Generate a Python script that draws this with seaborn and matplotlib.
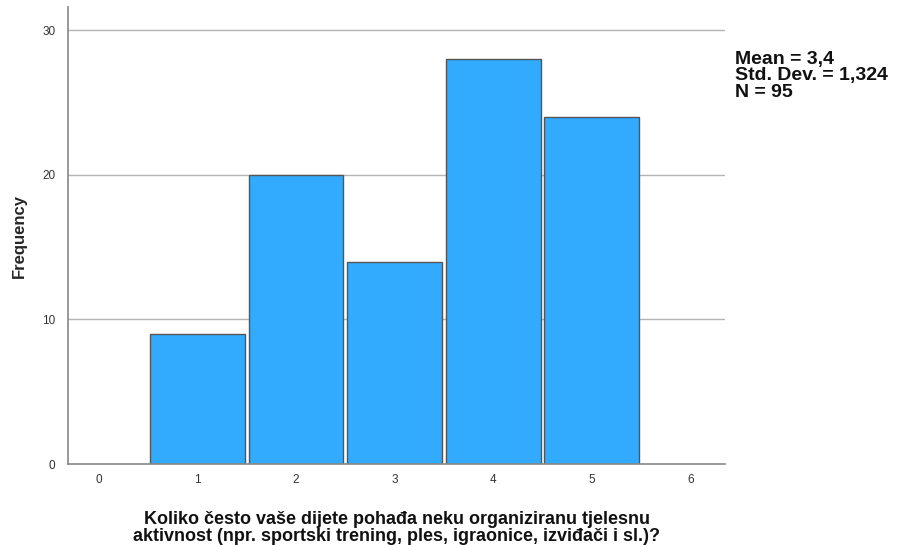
import matplotlib
matplotlib.use("Agg")
import matplotlib.pyplot as plt
import seaborn as sns
import pandas as pd

# Frequency table
categories = [1, 2, 3, 4, 5]
counts = [9, 20, 14, 28, 24]
x_ticks = [0, 1, 2, 3, 4, 5, 6]
y_ticks = [0, 10, 20, 30]
stats_text = "Mean = 3,4\nStd. Dev. = 1,324\nN = 95"
x_label = ("Koliko često vaše dijete pohađa neku organiziranu tjelesnu\n"
           "aktivnost (npr. sportski trening, ples, igraonice, izviđači i sl.)?")

df = pd.DataFrame({"value": categories, "count": counts})

sns.set_style("white")
plt.rcParams["font.family"] = ["Liberation Sans", "DejaVu Sans"]

fig = plt.figure(figsize=(9.23, 5.45), dpi=100)
ax = fig.add_axes([0.0737, 0.1486, 0.7118, 0.8384])

ax.set_axisbelow(True)
for yv in y_ticks[1:]:
    ax.axhline(yv, color="#b4b4b4", lw=1, zorder=0)

sns.histplot(data=df, x="value", weights="count", discrete=True, shrink=0.96,
             color="#32abff", alpha=1, edgecolor="#555555", linewidth=1, ax=ax)

ax.set_xlim(-0.31, 6.35)
ax.set_ylim(0, 31.6)
ax.set_xticks(x_ticks)
ax.set_yticks(y_ticks)
ax.tick_params(axis="both", length=0, labelsize=8.5, labelcolor="#333333")
ax.tick_params(axis="x", pad=7)
ax.tick_params(axis="y", pad=9)

for side in ["top", "right"]:
    ax.spines[side].set_visible(False)
for side in ["left", "bottom"]:
    ax.spines[side].set_color("#888888")
    ax.spines[side].set_linewidth(1.2)

ax.set_ylabel("Frequency", fontsize=12, fontweight="bold", labelpad=11)
ax.set_xlabel(x_label, fontsize=13, fontweight="bold", labelpad=18, linespacing=1.0,
              color="#111111")

fig.text(0.796, 0.907, stats_text, fontsize=14, fontweight="bold",
         va="top", ha="left", linespacing=0.98, color="#111111")

fig.savefig("out.png", dpi=100)
